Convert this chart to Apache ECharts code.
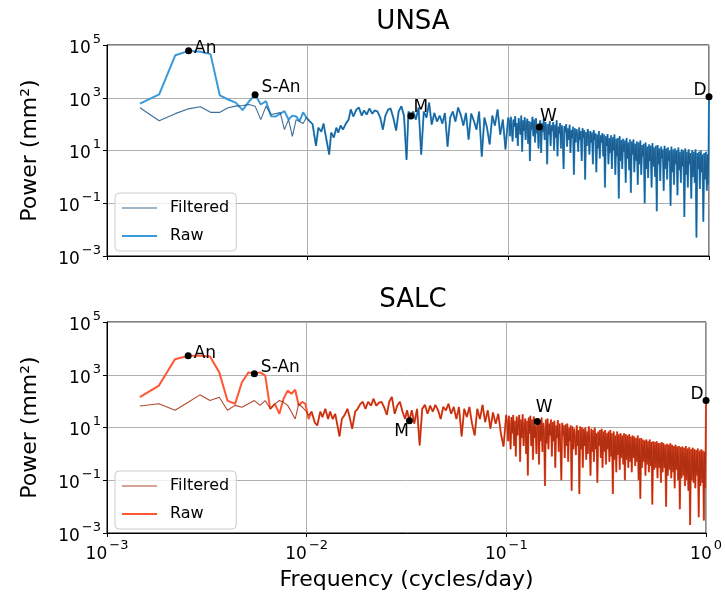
<!DOCTYPE html>
<html>
<head>
<meta charset="utf-8">
<title>UNSA / SALC power spectra</title>
<script src="https://cdn.jsdelivr.net/npm/echarts@6.0.0/dist/echarts.min.js"></script>
<style>
  html, body { margin: 0; padding: 0; background: #fff; }
  #container { width: 725px; height: 598px; }
</style>
</head>
<body>
<div id="container"></div>
<script>
// frequency bins in cycles/day (low part = every bin, above that a thinned subset)
var freqLow = [0.00146, 0.00182, 0.00219, 0.00255, 0.00292, 0.00328, 0.00365, 0.00401, 0.00438, 0.00474,
  0.00511, 0.00547, 0.00584, 0.00620, 0.00657, 0.00693, 0.00730, 0.00766, 0.00803, 0.00839,
  0.00876, 0.00912, 0.00949, 0.00985, 0.01022, 0.01058];
var freqMid = [0.0110, 0.0113, 0.0117, 0.0120, 0.0124, 0.0128, 0.0131, 0.0135, 0.0139, 0.0142,
  0.0146, 0.0150, 0.0155, 0.0160, 0.0164, 0.0169, 0.0175, 0.0180, 0.0186, 0.0191,
  0.0197, 0.0203, 0.0210, 0.0216, 0.0223, 0.0230, 0.0237, 0.0244, 0.0252, 0.0259,
  0.0267, 0.0276, 0.0284, 0.0293, 0.0302, 0.0311, 0.0318, 0.0327, 0.0336, 0.0346,
  0.0357, 0.0368, 0.0379, 0.0391, 0.0403, 0.0415, 0.0428, 0.0441, 0.0455, 0.0469,
  0.0483, 0.0498, 0.0513, 0.0529, 0.0545, 0.0562, 0.0579, 0.0597, 0.0615, 0.0634,
  0.0653, 0.0673, 0.0694, 0.0715, 0.0737, 0.0760, 0.0783, 0.0807, 0.0832, 0.0857,
  0.0884, 0.0911, 0.0939, 0.0968, 0.0998];
var freqHigh = [0.1010, 0.1020, 0.1030, 0.1040, 0.1050, 0.1061, 0.1071, 0.1082, 0.1093, 0.1104,
  0.1115, 0.1126, 0.1137, 0.1149, 0.1160, 0.1172, 0.1183, 0.1195, 0.1207, 0.1219,
  0.1231, 0.1243, 0.1255, 0.1268, 0.1281, 0.1294, 0.1306, 0.1319, 0.1332, 0.1346,
  0.1359, 0.1373, 0.1386, 0.1400, 0.1414, 0.1428, 0.1442, 0.1457, 0.1471, 0.1486,
  0.1501, 0.1516, 0.1531, 0.1546, 0.1561, 0.1577, 0.1592, 0.1608, 0.1624, 0.1641,
  0.1657, 0.1673, 0.1690, 0.1707, 0.1724, 0.1741, 0.1758, 0.1776, 0.1793, 0.1811,
  0.1829, 0.1848, 0.1866, 0.1885, 0.1903, 0.1922, 0.1941, 0.1961, 0.1980, 0.2000,
  0.2020, 0.2040, 0.2060, 0.2081, 0.2101, 0.2122, 0.2143, 0.2165, 0.2186, 0.2208,
  0.2230, 0.2252, 0.2274, 0.2297, 0.2320, 0.2343, 0.2366, 0.2390, 0.2414, 0.2438,
  0.2462, 0.2487, 0.2511, 0.2536, 0.2561, 0.2587, 0.2613, 0.2639, 0.2665, 0.2692,
  0.2718, 0.2745, 0.2772, 0.2800, 0.2828, 0.2856, 0.2884, 0.2913, 0.2942, 0.2972,
  0.3001, 0.3031, 0.3061, 0.3092, 0.3123, 0.3154, 0.3185, 0.3217, 0.3249, 0.3281,
  0.3314, 0.3347, 0.3380, 0.3414, 0.3448, 0.3482, 0.3517, 0.3552, 0.3587, 0.3623,
  0.3659, 0.3695, 0.3732, 0.3769, 0.3807, 0.3845, 0.3883, 0.3922, 0.3961, 0.4000,
  0.4040, 0.4080, 0.4121, 0.4162, 0.4203, 0.4245, 0.4287, 0.4330, 0.4373, 0.4416,
  0.4460, 0.4505, 0.4550, 0.4595, 0.4641, 0.4687, 0.4733, 0.4780, 0.4828, 0.4876,
  0.4924, 0.4973, 0.5023, 0.5073, 0.5123, 0.5174, 0.5226, 0.5278, 0.5330, 0.5383,
  0.5437, 0.5491, 0.5546, 0.5601, 0.5657, 0.5713, 0.5770, 0.5827, 0.5885, 0.5944,
  0.6003, 0.6062, 0.6123, 0.6184, 0.6245, 0.6307, 0.6370, 0.6433, 0.6497, 0.6562,
  0.6627, 0.6693, 0.6760, 0.6827, 0.6895, 0.6964, 0.7033, 0.7103, 0.7174, 0.7245,
  0.7317, 0.7390, 0.7464, 0.7538, 0.7613, 0.7688, 0.7765, 0.7842, 0.7920, 0.7999,
  0.8079, 0.8159, 0.8240, 0.8322, 0.8405, 0.8489, 0.8574, 0.8659, 0.8745, 0.8832,
  0.8920, 0.9008, 0.9098, 0.9188, 0.9280, 0.9372, 0.9466, 0.9560, 0.9655, 0.9751,
  0.9825, 0.9900, 0.9950, 1.0000];

// UNSA power (mm^2)
var unsaRawLow = [600, 1340, 41000, 60000, 55000, 45000, 1220, 860, 650, 340,
  740, 1300, 555, 740, 200, 195, 250, 310, 150, 210,
  195, 130, 280, 178, 130, 100];
var unsaFiltLow = [415, 135, 250, 380, 455, 280, 280, 415, 480, 510,
  555, 480, 148, 480, 230, 250, 275, 62, 148, 34,
  148, 125, 105, 178, 130, 100];
var unsaRawMid = [15, 73, 52, 105, 26, 7, 48, 31, 73, 48,
  88, 62, 105, 148, 360, 195, 360, 425, 210, 330,
  230, 390, 250, 330, 300, 177, 62, 210, 360, 390,
  177, 57, 300, 480, 210, 4.4, 300, 205, 300, 148,
  425, 6.9, 300, 177, 650, 96, 265, 125, 210, 105,
  265, 14, 177, 300, 125, 425, 230, 88, 265, 26,
  250, 135, 62, 300, 5.8, 177, 73, 17, 210, 88,
  360, 40, 148, 11, 177];
var unsaRawHigh = [120, 35, 190, 60, 22, 150, 80, 200, 30, 110,
  15, 170, 70, 40, 210, 9, 140, 55, 180, 25,
  95, 160, 18, 130, 4, 120, 60, 190, 35, 150,
  20, 170, 45, 90, 12, 78, 140, 8, 110, 50,
  160, 25, 120, 70, 3, 100, 40, 130, 15, 90,
  55, 120, 10, 95, 30, 140, 6, 80, 45, 110,
  12, 90, 35, 2, 85, 50, 100, 14, 70, 25,
  95, 8, 60, 30, 80, 1.2, 70, 20, 65, 40,
  9, 75, 25, 55, 4, 70, 30, 60, 0.8, 50,
  15, 65, 35, 7, 55, 20, 48, 3, 60, 25,
  45, 1.5, 40, 12, 55, 5, 38, 20, 45, 6,
  40, 0.4, 35, 15, 42, 3, 30, 8, 38, 2,
  32, 10, 40, 1.2, 28, 6, 30, 0.15, 35, 4,
  25, 2, 28, 9, 24, 0.6, 30, 5, 20, 1.8,
  26, 0.25, 22, 7, 26, 1.5, 18, 4, 22, 0.5,
  20, 3, 24, 1.2, 16, 6, 18, 0.1, 20, 2,
  14, 0.9, 17, 4, 15, 0.4, 19, 2.5, 13, 1,
  15, 0.05, 16, 3, 12, 0.7, 14, 5, 11, 0.3,
  15, 2, 12, 0.8, 13, 4, 10, 0.08, 14, 1.5,
  11, 0.5, 12, 3, 10, 0.2, 13, 1.8, 9, 0.6,
  11, 2.5, 10, 0.03, 12, 1.2, 9, 0.4, 11, 3,
  8, 0.15, 10, 1, 9, 0.6, 11, 0.005, 8, 2,
  9, 0.35, 10, 1.5, 7, 0.02, 8, 0.8, 9, 0.3,
  7, 0.5, 6, 1100];

// SALC power (mm^2)
var salcRawLow = [141, 390, 3900, 5200, 5200, 4900, 1230, 105, 79, 520,
  1230, 1100, 1230, 920, 51, 79, 33, 123, 250, 190,
  270, 68, 94, 79, 21, 40];
var salcFiltLow = [65, 79, 45, 91, 173, 105, 141, 45, 69, 59,
  80, 105, 69, 105, 51, 79, 105, 90, 69, 39,
  21, 79, 60, 45, 29, 40];
var salcRawMid = [15, 12, 40, 25, 51, 21, 40, 21, 33, 14,
  4.6, 21, 30, 51, 25, 9, 40, 51, 79, 94,
  51, 94, 67, 123, 67, 87, 94, 60, 30, 94,
  145, 33, 67, 94, 40, 21, 45, 18, 45, 14,
  51, 2.1, 51, 72, 33, 67, 40, 72, 45, 21,
  60, 45, 79, 33, 60, 21, 60, 4.6, 51, 25,
  60, 14, 5, 51, 21, 72, 16, 45, 9, 37,
  14, 33, 5.9, 1.9, 30];
var salcRawHigh = [12, 3, 28, 8, 1.5, 25, 6, 30, 2, 18,
  0.8, 26, 5, 14, 30, 0.5, 20, 4, 32, 2,
  10, 22, 1, 18, 0.15, 24, 6, 28, 2, 20,
  0.6, 26, 4, 12, 1, 17, 22, 0.4, 18, 3,
  24, 1.2, 15, 6, 0.06, 20, 2.5, 22, 1.5, 14,
  5, 20, 0.8, 16, 3, 18, 0.3, 12, 4, 19,
  1.2, 14, 2, 0.1, 15, 5, 12, 0.7, 13, 2,
  14, 0.5, 10, 3, 12, 0.04, 11, 1.5, 9, 4,
  0.9, 12, 2, 8, 0.03, 11, 1.5, 10, 0.3, 9,
  2, 10, 0.6, 7, 1, 11, 3, 0.15, 9, 1.2,
  8, 0.5, 10, 1.5, 6, 0.08, 7, 2, 8, 0.7,
  9, 0.3, 7, 1.2, 8, 0.4, 6, 1.5, 7, 0.5,
  8, 0.8, 6, 0.03, 7, 0.6, 5, 0.2, 7, 0.9,
  5.5, 0.25, 6, 0.7, 5, 0.4, 6, 0.1, 5.5, 0.6,
  5, 0.3, 5.5, 0.5, 4.5, 0.2, 5, 0.7, 4.5, 0.35,
  4, 0.5, 5, 0.1, 3.8, 0.02, 4, 0.3, 3.5, 0.5,
  3.2, 0.15, 3.5, 0.4, 3, 0.2, 3.5, 0.35, 2.8, 0.012,
  3, 0.25, 2.8, 0.3, 3, 0.12, 2.6, 0.3, 2.5, 0.08,
  2.8, 0.2, 2.5, 0.3, 2.2, 0.01, 2.4, 0.15, 2.2, 0.25,
  2.5, 0.12, 2.2, 0.2, 2, 0.05, 2.2, 0.25, 1.9, 0.1,
  2, 0.008, 1.8, 0.12, 1.9, 0.15, 1.7, 0.06, 2, 0.1,
  1.6, 0.04, 1.8, 0.002, 1.5, 0.1, 1.7, 0.08, 1.5, 0.05,
  1.4, 0.15, 1.6, 0.004, 1.3, 0.06, 1.5, 0.08, 1.3, 0.003,
  1.2, 0.05, 1.1, 105];

// tidal / seasonal peaks
var markNames = ['An', 'S-An', 'M', 'W', 'D'];
var markFreqs = [0.00255, 0.00547, 0.0327, 0.1428, 1.0];
var unsaMarkPow = [60000, 1300, 205, 78, 1100];
var salcMarkPow = [5200, 1100, 18, 17, 105];

var xTicks = [0.001, 0.01, 0.1, 1];
var yTicks = [0.001, 0.1, 10, 1000, 100000];

var FONT = 'DejaVu Sans';

function pairs(xs, ys) {
  var out = [];
  for (var i = 0; i < xs.length && i < ys.length; i++) out.push([xs[i], ys[i]]);
  return out;
}

var freqs = freqLow.concat(freqMid, freqHigh);
var unsaRaw = unsaRawLow.concat(unsaRawMid, unsaRawHigh);
var unsaFilt = unsaFiltLow.concat(unsaRawMid, unsaRawHigh);
var salcRaw = salcRawLow.concat(salcRawMid, salcRawHigh);
var salcFilt = salcFiltLow.concat(salcRawMid, salcRawHigh);

function powLabel(v) {
  var e = Math.round(Math.log(v) / Math.LN10);
  return '{b|10}{e|' + (e < 0 ? '\u2212' + (-e) : e) + '}';
}
var tickRich = {
  b: { fontSize: 17, fontFamily: FONT, color: '#000', padding: [7, 0, 0, 0] },
  e: { fontSize: 13, fontFamily: FONT, color: '#000', verticalAlign: 'top', padding: [0, 0, 0, 2] }
};

// label placement per peak, [top panel, bottom panel]
var labelPos = {
  'An':   [{ position: 'right', distance: 2, offset: [0, -2] }, { position: 'right', distance: 2, offset: [0, -2] }],
  'S-An': [{ position: 'right', distance: 3, offset: [0, -7] }, { position: 'right', distance: 3, offset: [0, -6] }],
  'M':    [{ position: 'right', distance: 0, offset: [-1, -8] }, { position: 'left', distance: 0, offset: [3, 11] }],
  'W':    [{ position: 'right', distance: 0, offset: [-3, -10] }, { position: 'top', distance: 2, offset: [7, 0] }],
  'D':    [{ position: 'left', distance: 1, offset: [2, -6] }, { position: 'left', distance: 1, offset: [2, -6] }]
};

function markData(pows, panel) {
  return markNames.map(function (n, i) {
    return { name: n, value: [markFreqs[i], pows[i]], label: labelPos[n][panel] };
  });
}

function xAxisCfg(idx, showLabels) {
  return {
    type: 'log', logBase: 10, gridIndex: idx, min: 0.001, max: 1,
    axisLine: { show: true, onZero: false, lineStyle: { color: '#000', width: 1 } },
    axisTick: { show: true, length: 4, customValues: xTicks, lineStyle: { color: '#000' } },
    axisLabel: { show: showLabels, customValues: xTicks, formatter: powLabel, rich: tickRich, margin: 6 },
    splitLine: { show: true, lineStyle: { color: '#b0b0b0', width: 1 } },
    minorTick: { show: false },
    name: showLabels ? 'Frequency (cycles/day)' : '',
    nameLocation: 'middle', nameGap: 36,
    nameTextStyle: { fontSize: 22, fontFamily: FONT, color: '#000' }
  };
}

function yAxisCfg(idx) {
  return {
    type: 'log', logBase: 10, gridIndex: idx, min: 0.001, max: 100000,
    axisLine: { show: true, onZero: false, lineStyle: { color: '#000', width: 1 } },
    axisTick: { show: true, length: 4, customValues: yTicks, lineStyle: { color: '#000' } },
    axisLabel: { customValues: yTicks, formatter: powLabel, rich: tickRich, margin: 6 },
    splitLine: { show: true, lineStyle: { color: '#b0b0b0', width: 1 } },
    name: 'Power (mm²)', nameLocation: 'middle', nameGap: 66,
    nameTextStyle: { fontSize: 22, fontFamily: FONT, color: '#000' }
  };
}

// thin / thick line icons for the legend
var iconThin = 'path://M0 0H35V1H0Z';
var iconThick = 'path://M0 0H35V2H0Z';

function legendCfg(top, names) {
  return {
    orient: 'vertical', left: 115, top: top,
    data: [{ name: names[0], icon: iconThin }, { name: names[1], icon: iconThick }],
    formatter: function (name) { return '{t|' + name.split(' ')[0] + '}'; },
    itemWidth: 35, itemHeight: 14, itemGap: 12, symbolKeepAspect: true,
    padding: [7, 7, 7, 7],
    backgroundColor: 'rgba(255,255,255,0.8)',
    borderColor: '#cccccc', borderWidth: 1, borderRadius: 4,
    textStyle: {
      fontSize: 16, fontFamily: FONT, color: '#000',
      rich: { t: { fontSize: 16, fontFamily: FONT, color: '#000', padding: [0, 0, 0, 8] } }
    }
  };
}

function lineSeries(name, idx, data, color, width, opacity, z) {
  return {
    name: name, type: 'line', xAxisIndex: idx, yAxisIndex: idx,
    data: data, showSymbol: false, symbol: 'none', z: z,
    lineStyle: { color: color, width: width, opacity: opacity },
    itemStyle: { color: color, opacity: opacity },
    emphasis: { disabled: true }
  };
}

function markSeries(idx, data) {
  return {
    type: 'scatter', xAxisIndex: idx, yAxisIndex: idx, data: data,
    symbolSize: 7, itemStyle: { color: '#000', opacity: 1 }, z: 10, clip: false,
    label: { show: true, formatter: '{b}', fontSize: 17, fontFamily: FONT, color: '#000', opacity: 1 },
    emphasis: { disabled: true }
  };
}

var dom = document.getElementById('container');
var myChart = echarts.init(dom, null, { renderer: 'canvas' });
var option = {
  animation: false,
  backgroundColor: '#fff',
  textStyle: { fontFamily: FONT },
  title: [
    { text: 'UNSA', left: 408, textAlign: 'center', top: 4,
      textStyle: { fontSize: 26, fontWeight: 'normal', fontFamily: FONT, color: '#000' } },
    { text: 'SALC', left: 408, textAlign: 'center', top: 282,
      textStyle: { fontSize: 26, fontWeight: 'normal', fontFamily: FONT, color: '#000' } }
  ],
  grid: [
    { left: 107, right: 16, top: 45, height: 211, show: true, borderColor: '#000', borderWidth: 1, backgroundColor: 'transparent' },
    { left: 107, right: 16, top: 322, height: 211, show: true, borderColor: '#000', borderWidth: 1, backgroundColor: 'transparent' }
  ],
  legend: [
    legendCfg(193, ['Filtered UNSA', 'Raw UNSA']),
    legendCfg(471, ['Filtered SALC', 'Raw SALC'])
  ],
  xAxis: [xAxisCfg(0, false), xAxisCfg(1, true)],
  yAxis: [yAxisCfg(0), yAxisCfg(1)],
  series: [
    lineSeries('Raw UNSA', 0, pairs(freqs, unsaRaw), '#3a9ad9', 2, 1, 2),
    lineSeries('Filtered UNSA', 0, pairs(freqs, unsaFilt), '#1a5585', 1.1, 0.85, 3),
    markSeries(0, markData(unsaMarkPow, 0)),
    lineSeries('Raw SALC', 1, pairs(freqs, salcRaw), '#ff5733', 2, 1, 2),
    lineSeries('Filtered SALC', 1, pairs(freqs, salcFilt), '#a3290c', 1.1, 0.85, 3),
    markSeries(1, markData(salcMarkPow, 1))
  ]
};

if (option && typeof option === 'object') {
  myChart.setOption(option);
}
</script>
</body>
</html>
